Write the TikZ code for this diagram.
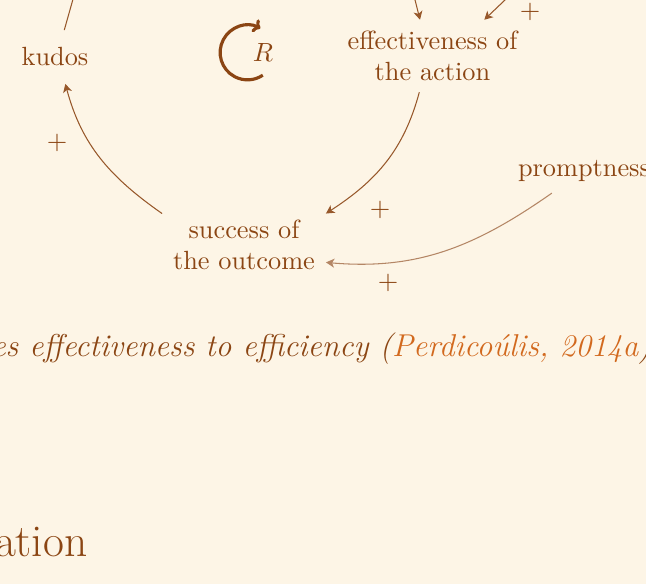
\documentclass[tikz,border=0pt]{standalone}
\usepackage{fontspec}
\usepackage{amsmath}
\usetikzlibrary{positioning,arrows.meta,calc}
\definecolor{bgcream}{HTML}{FDF5E6}
\definecolor{cldbrown}{HTML}{8B4513}
\definecolor{citeorange}{HTML}{D2691E}
\tikzset{
  % variable of the causal loop
  var/.style     = {rectangle, align=center, inner sep=4pt, text=cldbrown},
  % polarity of a link
  sign/.style    = {inner sep=1pt, text=cldbrown},
  % causal links
  link/.style    = {-{Stealth[length=3.2pt,width=3.4pt,inset=0.9pt]}, cldbrown!90},
  weak/.style    = {link, cldbrown!65},
  % reinforcing loop marker
  loopmark/.style = {{To[length=2.6pt,width=5.4pt]}-, very thick, cldbrown},
}

\begin{document}
\begin{tikzpicture}[x=0.38pt, y=-0.38pt]

  % slide area
  \useasboundingbox (0,0) rectangle (646,584);
  \fill[bgcream] (0,0) rectangle (646,584);
  \clip (0,0) rectangle (646,584);

  % --- variables ---
  \node[var, inner sep=6.5pt, anchor=base] (kudos) at (55,66) {kudos};
  \node[var] (effect) at (432.5,56) {effectiveness of\\the action};
  \node[var] (succ) at (244,245) {success of\\the outcome};
  \node[var, anchor=base] (prompt) at (584,177) {promptness};

  % links coming from outside the view
  \coordinate (kout) at (77,-15);
  \coordinate (in5) at (410,-20);
  \coordinate (in6) at (526,-20);

  % loop marker
  \coordinate (loopc) at (247.5,52.5);
  \node[sign] (loopR) at ($(loopc)+(15.5,0)$) {$R$};
  \draw[loopmark] ([shift={(62:10.4pt)}]loopc) arc[start angle=62, end angle=304, radius=10.4pt];

  % --- edges ---
  \draw[link] (kudos.71) -- (kout);
  \draw[link] (succ.159) to[out=145, in=-75] (kudos.-69);
  \draw[link] (effect.-110) to[out=-105, in=33] (succ.21);
  \draw[weak] (prompt.214) to[out=215, in=-5] (succ.-12);
  \draw[link] (in5) -- (effect.109);
  \draw[link] (in6) -- (effect.35);

  % polarities
  \node[sign] (s1) at (57,143) {$+$};
  \node[sign] (s2) at (380,210) {$+$};
  \node[sign] (s3) at (388,283) {$+$};
  \node[sign] (s4) at (530,12) {$+$};

  % caption and heading, cut by the view
  \node[anchor=base west, inner sep=0, text=cldbrown, font=\large\itshape] (capt) at (-9,357)
       {es effectiveness to efficiency ({\color{citeorange}Perdicoúlis, 2014a})};
  \node[anchor=base east, inner sep=0, text=cldbrown, font=\LARGE] (sect) at (88,557) {ation};

\end{tikzpicture}
\end{document}
